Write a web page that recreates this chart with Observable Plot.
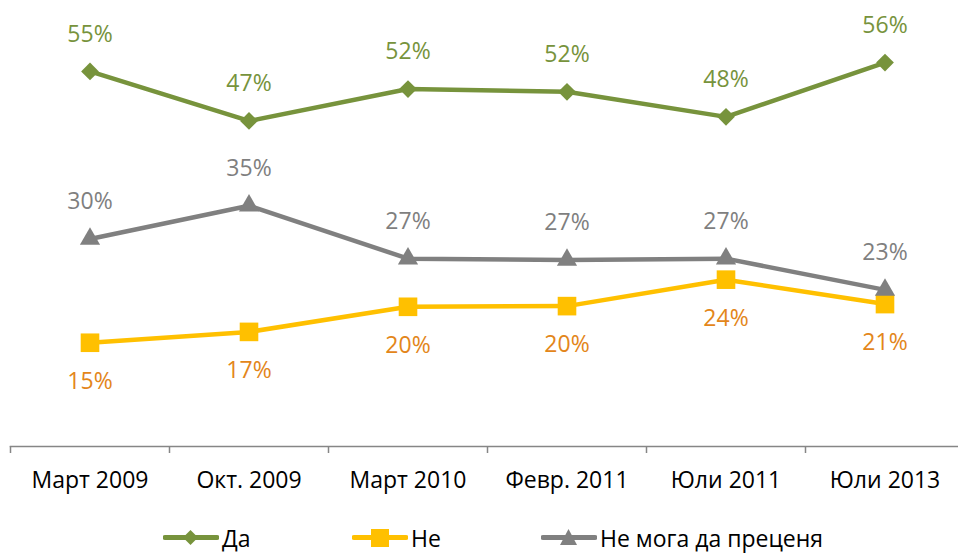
<!DOCTYPE html>
<html>
<head>
<meta charset="utf-8">
<script src="https://cdn.jsdelivr.net/npm/d3@7"></script>
<script src="https://cdn.jsdelivr.net/npm/@observablehq/plot@0.6"></script>
<style>
  html, body { margin: 0; padding: 0; background: #fff; }
  body { width: 958px; font-family: "Open Sans", sans-serif; }
  #legend { position: relative; height: 35px; width: 958px; font-size: 23px; color: #000; }
  .item { position: absolute; top: 0; height: 35px; display: flex; align-items: center; }
  .item svg { margin-right: 3px; }
</style>
</head>
<body>
<div id="chart"></div>
<div id="legend"></div>
<script>
const categories = ["Март 2009", "Окт. 2009", "Март 2010", "Февр. 2011", "Юли 2011", "Юли 2013"];
const seriesNames = ["Да", "Не", "Не мога да преценя"];
const daValues = [55.0, 47.7, 52.4, 52.0, 48.3, 56.3];
const neValues = [15.0, 16.6, 20.3, 20.4, 24.3, 20.7];
const neMogaValues = [30.3, 35.2, 27.4, 27.2, 27.4, 22.8];
const daLabels = ["55%", "47%", "52%", "52%", "48%", "56%"];
const neLabels = ["15%", "17%", "20%", "20%", "24%", "21%"];
const neMogaLabels = ["30%", "35%", "27%", "27%", "27%", "23%"];

const colors = {"Да": "#77933C", "Не": "#FFC000", "Не мога да преценя": "#808080"};
const labelColors = {"Да": "#77933C", "Не": "#E3861A", "Не мога да преценя": "#7F7F7F"};
const symbols = {"Да": "diamond2", "Не": "square", "Не мога да преценя": "triangle"};
const radii = {"Да": 8, "Не": 10.5, "Не мога да преценя": 7.5};
const offsets = {"Да": -37, "Не": 39, "Не мога да преценя": -37};

const idx = categories.map((_, i) => i);
const bounds = [-0.5, 0.5, 1.5, 2.5, 3.5, 4.5, 5.5];

const series = [
  {name: "Да", values: daValues, labels: daLabels},
  {name: "Не", values: neValues, labels: neLabels},
  {name: "Не мога да преценя", values: neMogaValues, labels: neMogaLabels}
];

const marks = [
  Plot.frame({anchor: "bottom", stroke: "#868686", strokeWidth: 1.5}),
  Plot.axisX({ticks: bounds, tickSize: 7, tickFormat: () => "", label: null, stroke: "#868686", strokeWidth: 1.5}),
  Plot.text(idx, {x: d => d, text: d => categories[d], frameAnchor: "bottom", dy: 34, fontSize: 23, fill: "#000", lineAnchor: "middle"})
];

for (const s of series) {
  const data = s.values.map((v, i) => ({i, v, label: s.labels[i]}));
  marks.push(Plot.line(data, {x: "i", y: "v", stroke: colors[s.name], strokeWidth: 4.5}));
  marks.push(Plot.dot(data, {x: "i", y: "v", symbol: symbols[s.name], r: radii[s.name], fill: colors[s.name], stroke: "none"}));
  marks.push(Plot.text(data, {x: "i", y: "v", text: "label", dy: offsets[s.name], fill: labelColors[s.name], fontSize: 23, lineAnchor: "middle"}));
}

const chart = Plot.plot({
  width: 958,
  height: 520,
  marginLeft: 10,
  marginRight: 0,
  marginTop: 0,
  marginBottom: 74,
  style: {fontFamily: "Open Sans, sans-serif", background: "#fff"},
  x: {domain: [-0.5, 5.5], range: [10, 964], label: null},
  y: {domain: [0, 60], range: [444, 37], axis: null},
  marks
});
document.getElementById("chart").appendChild(chart);

// Legend
const legend = document.getElementById("legend");
const lefts = [163, 352, 541];
seriesNames.forEach((name, k) => {
  const item = document.createElement("div");
  item.className = "item";
  item.style.left = lefts[k] + "px";
  const c = colors[name];
  let marker;
  if (symbols[name] === "diamond2") marker = `<path d="M27.5,19 L35,26.5 L27.5,34 L20,26.5 Z" fill="${c}" transform="translate(0,-9)"/>`;
  else if (symbols[name] === "square") marker = `<rect x="19" y="9" width="18" height="18" fill="${c}"/>`;
  else marker = `<path d="M27.5,9 L36,25 L19,25 Z" fill="${c}"/>`;
  item.innerHTML = `<svg width="56" height="35" viewBox="0 0 56 35"><line x1="2" x2="54" y1="17.5" y2="17.5" stroke="${c}" stroke-width="5" stroke-linecap="round"/>${marker}</svg><span>${name}</span>`;
  legend.appendChild(item);
});
</script>
</body>
</html>
